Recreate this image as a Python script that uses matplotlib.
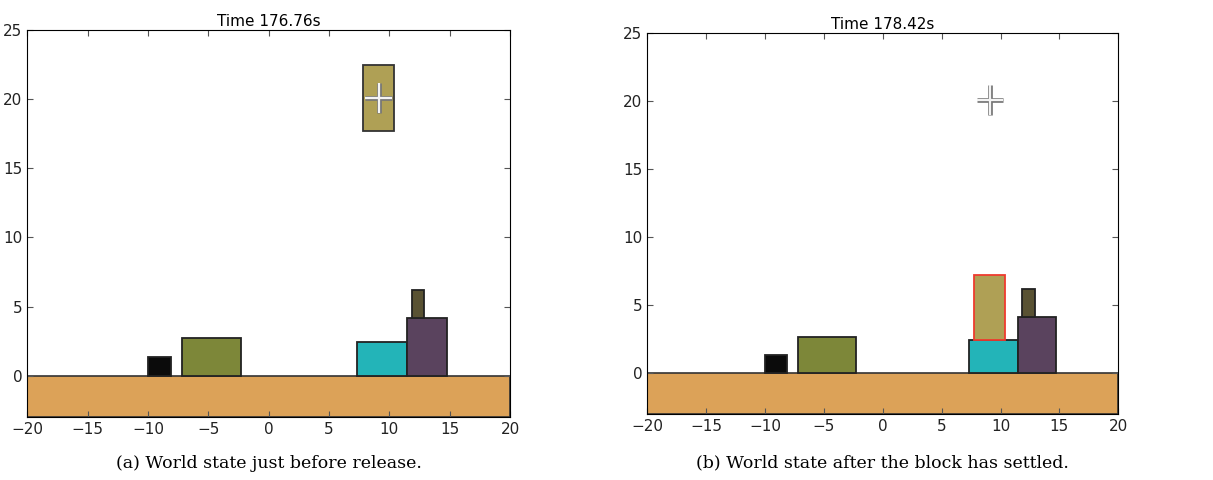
import numpy as np
import matplotlib
matplotlib.use('Agg')
import matplotlib.pyplot as plt
from matplotlib.patches import Rectangle

# world bounds
xlim = (-20, 20)
ylim = (-3, 25)

# ground slab
ground = (-20, -3, 40, 3)
ground_color = '#dca258'

# static blocks: left x, bottom y, width, height, colour
block_x = [-10.0, -7.2, 7.35, 11.5, 11.85]
block_y = [0.0, 0.0, 0.0, 0.0, 4.15]
block_w = [1.9, 4.9, 4.1, 3.25, 1.05]
block_h = [1.35, 2.7, 2.45, 4.15, 2.05]
block_c = ['#0b0b0b', '#7d8739', '#23b4b8', '#5a435e', '#595233']

# the dropped block, before and after
drop_w = 2.6
drop_h = 4.8
drop_x = [7.8, 7.75]
drop_y = [17.7, 2.45]
drop_c = '#afa055'
drop_edge = ['#333333', '#ee3b2f']

# crosshair of the gripper
cross_x = [9.1, 9.1]
cross_y = [20.1, 20.1]
cross_r = 1.1

times = [176.76, 178.42]
captions = ['(a) World state just before release.',
            '(b) World state after the block has settled.']

fig = plt.figure(figsize=(12.13, 4.8), dpi=100)
ax_pos = [[0.0225, 0.131, 0.398, 0.806],
          [0.5336, 0.1375, 0.3883, 0.793]]

for k in range(2):
    ax = fig.add_axes(ax_pos[k])
    ax.add_patch(Rectangle(ground[:2], ground[2], ground[3], facecolor=ground_color,
                           edgecolor='#333333', lw=1.2))
    for i in range(len(block_x)):
        ax.add_patch(Rectangle((block_x[i], block_y[i]), block_w[i], block_h[i],
                               facecolor=block_c[i], edgecolor='#222222', lw=1.3))
    ax.add_patch(Rectangle((drop_x[k], drop_y[k]), drop_w, drop_h,
                           facecolor=drop_c, edgecolor=drop_edge[k], lw=1.3))
    cx = cross_x[k]
    cy = cross_y[k]
    # outline first, then the white core over both arms
    for col, lw in [('#777777', 3.4), ('#f4f4f4', 1.6)]:
        ax.plot([cx - cross_r, cx + cross_r, np.nan, cx, cx],
                [cy, cy, np.nan, cy - cross_r, cy + cross_r],
                color=col, lw=lw, solid_capstyle='butt')
    ax.set_xlim(xlim)
    ax.set_ylim(ylim)
    ax.set_xticks(np.arange(-20, 21, 5))
    ax.set_yticks(np.arange(0, 26, 5))
    ax.tick_params(direction='in', top=True, right=True, labelsize=11,
                   length=4, color='#555555', labelcolor='#222222')
    ax.set_title('Time %.2fs' % times[k], fontsize=11, pad=3)
    x0, y0, w, h = ax_pos[k]
    fig.text(x0 + w / 2, 0.035, captions[k], ha='center', va='center',
             family='serif', fontsize=12.5)

fig.savefig('out.png', dpi=100)
